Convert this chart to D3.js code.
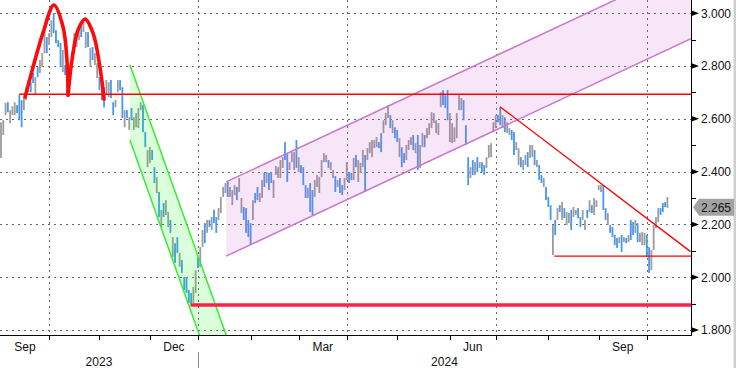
<!DOCTYPE html>
<html>
<head>
<meta charset="utf-8">
<script src="https://cdn.jsdelivr.net/npm/d3@7"></script>
<style>
body{margin:0;background:#fff;}
svg{display:block;font-family:"Liberation Sans",Arial,sans-serif;}
</style>
</head>
<body>
<div id="content" style="width:736px;height:368px;"></div>
<script>
// daily high / low, one entry per trading day from 1 Sep 2023
var hi = [
  2.587,2.595,2.660,2.663,2.633,2.648,2.663,2.652,2.690,2.671,
  2.682,2.720,2.747,2.739,2.774,2.758,2.796,2.823,2.849,2.944,
  2.910,2.925,2.974,3.001,2.936,2.898,2.887,2.861,2.804,2.796,
  2.792,2.853,2.925,2.929,2.948,2.967,2.967,2.929,2.929,2.868,
  2.872,2.849,2.811,2.758,2.709,2.720,2.747,2.739,2.747,2.663,
  2.671,2.747,2.747,2.720,2.633,2.633,2.606,2.641,2.606,2.622,
  2.641,2.663,2.652,2.550,2.482,2.493,2.482,2.417,2.379,2.323,
  2.255,2.281,2.292,2.247,2.217,2.152,2.129,2.152,2.092,2.065,
  2.001,2.001,1.952,1.940,1.963,2.027,2.076,2.114,2.179,2.205,
  2.217,2.217,2.228,2.255,2.228,2.262,2.304,2.342,2.357,2.361,
  2.342,2.330,2.349,2.342,2.376,2.300,2.266,2.262,2.217,2.205,
  2.292,2.319,2.342,2.319,2.368,2.395,2.398,2.395,2.398,2.368,
  2.421,2.417,2.444,2.455,2.512,2.470,2.436,2.474,2.474,2.520,
  2.455,2.425,2.417,2.349,2.338,2.357,2.330,2.368,2.387,2.380,
  2.444,2.470,2.463,2.444,2.436,2.406,2.383,2.368,2.376,2.349,
  2.376,2.436,2.398,2.395,2.452,2.463,2.444,2.433,2.482,2.463,
  2.489,2.512,2.520,2.520,2.531,2.512,2.546,2.595,2.622,2.652,
  2.614,2.595,2.568,2.558,2.527,2.493,2.470,2.501,2.520,2.531,
  2.539,2.508,2.539,2.501,2.546,2.539,2.565,2.584,2.625,2.622,
  2.595,2.584,2.701,2.709,2.690,2.709,2.622,2.584,2.568,2.622,
  2.690,2.679,2.671,2.576,2.455,2.417,2.444,2.436,2.455,2.436,
  2.436,2.425,2.455,2.501,2.508,2.587,2.614,2.614,2.644,2.614,
  2.606,2.587,2.565,2.558,2.550,2.512,2.489,2.455,2.444,2.463,
  2.474,2.501,2.501,2.482,2.444,2.425,2.387,2.376,2.342,2.304,
  2.273,2.198,2.217,2.262,2.273,2.285,2.262,2.247,2.243,2.255,
  2.266,2.255,2.262,2.228,2.255,2.217,2.255,2.292,2.273,2.300,
  2.292,2.349,2.349,2.349,2.262,2.243,2.198,2.190,2.160,2.149,
  2.152,2.160,2.152,2.149,2.160,2.217,2.209,2.217,2.205,2.168,
  2.171,2.168,2.160,2.114,2.103,2.198,2.228,2.262,2.262,2.281,
  2.285,2.304
];
var lo = [
  2.452,2.539,2.614,2.625,2.584,2.614,2.614,2.622,2.595,2.568,
  2.633,2.671,2.701,2.701,2.736,2.690,2.758,2.774,2.796,2.849,
  2.849,2.880,2.910,2.925,2.887,2.872,2.796,2.777,2.766,2.698,
  2.747,2.792,2.849,2.872,2.898,2.910,2.929,2.868,2.872,2.796,
  2.823,2.804,2.755,2.709,2.671,2.644,2.690,2.682,2.679,2.614,
  2.644,2.701,2.709,2.603,2.568,2.603,2.558,2.595,2.558,2.568,
  2.565,2.633,2.550,2.493,2.417,2.433,2.444,2.357,2.319,2.228,
  2.190,2.228,2.236,2.190,2.168,2.076,2.054,2.092,2.039,2.016,
  1.952,1.940,1.902,1.895,1.902,1.940,2.035,2.039,2.114,2.129,
  2.168,2.190,2.179,2.205,2.168,2.217,2.243,2.304,2.319,2.304,
  2.304,2.273,2.311,2.292,2.323,2.243,2.217,2.168,2.152,2.122,
  2.217,2.281,2.292,2.285,2.300,2.342,2.357,2.330,2.357,2.300,
  2.387,2.376,2.376,2.414,2.444,2.361,2.406,2.436,2.406,2.414,
  2.398,2.395,2.349,2.300,2.300,2.247,2.236,2.304,2.342,2.319,
  2.380,2.436,2.436,2.414,2.406,2.376,2.323,2.342,2.319,2.311,
  2.330,2.368,2.357,2.368,2.368,2.417,2.361,2.395,2.417,2.323,
  2.444,2.470,2.455,2.489,2.493,2.489,2.474,2.546,2.576,2.603,
  2.565,2.546,2.527,2.512,2.455,2.417,2.433,2.444,2.482,2.501,
  2.482,2.470,2.406,2.414,2.493,2.493,2.527,2.539,2.565,2.584,
  2.546,2.539,2.644,2.652,2.641,2.595,2.512,2.508,2.512,2.527,
  2.633,2.633,2.595,2.501,2.349,2.376,2.387,2.387,2.398,2.414,
  2.398,2.387,2.414,2.452,2.455,2.550,2.565,2.587,2.576,2.565,
  2.550,2.546,2.539,2.520,2.463,2.482,2.425,2.417,2.406,2.425,
  2.417,2.452,2.455,2.425,2.417,2.368,2.357,2.342,2.292,2.266,
  2.217,2.084,2.160,2.217,2.247,2.217,2.224,2.198,2.205,2.179,
  2.228,2.236,2.224,2.190,2.217,2.179,2.224,2.247,2.243,2.236,
  2.266,2.330,2.323,2.255,2.217,2.198,2.168,2.152,2.122,2.111,
  2.129,2.095,2.133,2.129,2.133,2.141,2.160,2.168,2.133,2.133,
  2.122,2.122,2.076,2.016,2.027,2.103,2.186,2.209,2.236,2.247,
  2.266,2.262
];
// b = blue bar, g = grey bar
var dir = "gggbgggbbb" + "gggbbgbggg" + "bggbbbbgbg" + "gggggbggbg" + "bggbbbggbb" +
          "ggbbgbgbgg" + "ggbbggbbgb" + "gbggbgbbgb" + "bbbbggbggb" + "gbgbbggggb" +
          "gggbggbbbb" + "gbbggbgbbg" + "ggggbbgggb" + "gbbbgbbggg" + "gggbggbgbb" +
          "ggbbgbgggb" + "gggggbbggg" + "bgbbgbbggg" + "bgbggbgggg" + "gggbbbgggg" +
          "ggbbbgbgbg" + "bbgggggbbg" + "bggbbggbgg" + "bggbgbbgbb" + "bgbgbgbggb" +
          "ggbbggbgbg" + "gggbbgbbbb" + "gbgbgbbgbg" + "ggbbggggbb" + "bg";
var lastPrice = 2.265;

var yTicks = [1.8, 2.0, 2.2, 2.4, 2.6, 2.8, 3.0];
var yMinor = [1.9, 2.1, 2.3, 2.5, 2.7, 2.9];
var labelMonths = [8, 11, 2, 5];   // Sep, Dec, Mar, Jun
var gridMonths = [0, 3, 6, 9];     // Jan, Apr, Jul, Oct

// drawn studies, in (trading day index, price)
var neckline = {from: 7.9, price: 2.693};
var top1 = [[10.5,2.683],[14,2.796],[18.3,2.925],[23.1,3.031],[27.1,2.948],[28.8,2.823],[29.3,2.690]];
var top2 = [[29.3,2.690],[31,2.823],[33.6,2.936],[36.7,2.978],[40.2,2.925],[43.2,2.796],[45,2.675]];
var downChannel = {from: 56.3, to: 100, upper: [2.804, 1.740], lower: [2.520, 1.455]};
var upChannel = {from: 98.3, to: 301.3, upper: [2.361, 3.185], lower: [2.080, 2.904]};
var support = {from: 82.8, price: 1.895};
var trendDown = [[217.9, 2.646], [301.1, 2.097]];
var base = {from: 241.6, price: 2.080};

var W = 736, H = 368, right = 691, bottom = 335, endIdx = 301.3;

// trading days (weekdays) from 1 Sep 2023
var days = [];
for (var d = new Date(2023, 8, 1); days.length < 302; d.setDate(d.getDate() + 1)) {
  if (d.getDay() % 6 !== 0) days.push(new Date(d));
}
var monthStarts = [];
days.forEach(function(dt, i){
  if (i === 0 || dt.getMonth() !== days[i-1].getMonth()) monthStarts.push({i: i, date: dt});
});

var x = d3.scaleLinear().domain([0, endIdx]).range([1, right]);
var y = d3.scaleLinear().domain([1.8, 3.0]).range([330, 13.3]);

var svg = d3.select('#content').append('svg')
  .attr('width', W)
  .attr('height', H);
svg.append('rect').attr('width', W).attr('height', H).attr('fill', '#fff');
svg.append('rect').attr('x', 733.5).attr('width', 2.5).attr('height', H).attr('fill', '#cfcfcf');

svg.append('defs').append('clipPath').attr('id', 'clip')
  .append('rect').attr('width', right).attr('height', bottom);

// grid
var grid = svg.append('g').attr('stroke', '#666').attr('stroke-dasharray', '2,4');
grid.selectAll('.hg').data(yTicks).enter().append('line')
  .attr('x1', 0).attr('x2', right)
  .attr('y1', function(v){ return Math.round(y(v)) + 0.5; })
  .attr('y2', function(v){ return Math.round(y(v)) + 0.5; });
grid.selectAll('.vg').data(monthStarts.filter(function(m){ return m.i > 0 && gridMonths.indexOf(m.date.getMonth()) >= 0; }))
  .enter().append('line')
  .attr('x1', function(m){ return Math.round(x(m.i)) + 0.5; })
  .attr('x2', function(m){ return Math.round(x(m.i)) + 0.5; })
  .attr('y1', 0).attr('y2', bottom);

var plot = svg.append('g').attr('clip-path', 'url(#clip)');

// price bars
plot.append('g').selectAll('rect')
  .data(hi)
  .enter()
  .append('rect')
  .attr('x', function(v, i){ return x(i) - 0.9; })
  .attr('width', 1.8)
  .attr('y', function(v){ return y(v); })
  .attr('height', function(v, i){ return Math.max(1, y(lo[i]) - y(v)); })
  .attr('fill', function(v, i){ return dir[i] === 'b' ? '#4598f2' : '#9c9c9c'; });

function channelArea(c){
  return [[c.from, c.upper[0]], [c.to, c.upper[1]], [c.to, c.lower[1]], [c.from, c.lower[0]]];
}
var line = d3.line()
  .x(function(p){ return x(p[0]); })
  .y(function(p){ return y(p[1]); });

// channels
plot.append('path').attr('d', line(channelArea(downChannel)) + 'Z')
  .attr('fill', 'rgb(0,255,0)').attr('fill-opacity', 0.14);
plot.append('path').attr('d', line(channelArea(upChannel)) + 'Z')
  .attr('fill', 'rgb(200,90,200)').attr('fill-opacity', 0.15);
[['upper', '#33ee33', downChannel], ['lower', '#33ee33', downChannel],
 ['upper', '#cc77cc', upChannel], ['lower', '#cc77cc', upChannel]].forEach(function(s){
  var c = s[2];
  plot.append('path')
    .attr('d', line([[c.from, c[s[0]][0]], [c.to, c[s[0]][1]]]))
    .attr('stroke', s[1]).attr('stroke-width', 1.5).attr('fill', 'none');
});

// horizontal levels and trend line
plot.append('path').attr('d', line([[neckline.from, neckline.price], [endIdx, neckline.price]]))
  .attr('stroke', '#ff0000').attr('stroke-width', 1.5).attr('fill', 'none');
plot.append('path').attr('d', line([[support.from, support.price], [endIdx, support.price]]))
  .attr('stroke', '#ff1f4b').attr('stroke-width', 3.5).attr('fill', 'none');
plot.append('path').attr('d', line([[base.from, base.price], [endIdx, base.price]]))
  .attr('stroke', '#ff0000').attr('stroke-width', 1.3).attr('fill', 'none');
plot.append('path').attr('d', line(trendDown))
  .attr('stroke', '#ff0000').attr('stroke-width', 1.3).attr('fill', 'none');

// double top arcs
var arc = d3.line()
  .x(function(p){ return x(p[0]); })
  .y(function(p){ return y(p[1]); })
  .curve(d3.curveCatmullRom.alpha(0.5));
[top1, top2].forEach(function(t){
  plot.append('path').attr('d', arc(t))
    .attr('stroke', '#ff0a0a').attr('stroke-width', 3.6).attr('fill', 'none')
    .attr('stroke-linecap', 'round');
});

// axes lines
svg.append('line').attr('x1', right + 0.5).attr('x2', right + 0.5).attr('y1', 0).attr('y2', bottom + 1)
  .attr('stroke', '#000');
svg.append('line').attr('x1', 0).attr('x2', right + 1).attr('y1', bottom + 0.5).attr('y2', bottom + 0.5)
  .attr('stroke', '#000');

// right axis
var yAxis = svg.append('g').attr('fill', '#111').attr('font-size', '12px');
yAxis.selectAll('path').data(yTicks).enter().append('path')
  .attr('d', function(v){ var t = y(v); return 'M' + right + ',' + (t - 3) + 'L' + (right + 8) + ',' + t + 'L' + right + ',' + (t + 3) + 'Z'; })
  .attr('fill', '#000');
yAxis.selectAll('line').data(yMinor).enter().append('line')
  .attr('x1', right).attr('x2', right + 5)
  .attr('y1', function(v){ return Math.round(y(v)) + 0.5; })
  .attr('y2', function(v){ return Math.round(y(v)) + 0.5; })
  .attr('stroke', '#000');
yAxis.selectAll('text').data(yTicks).enter().append('text')
  .attr('x', 701)
  .attr('y', function(v){ return y(v); })
  .attr('dy', '0.36em')
  .text(d3.format('.3f'));

// last price tag
var ly = y(lastPrice);
svg.append('path')
  .attr('d', 'M693,' + ly + 'L699,' + (ly - 8.5) + 'L734,' + (ly - 8.5) + 'L734,' + (ly + 8.5) + 'L699,' + (ly + 8.5) + 'Z')
  .attr('fill', '#a3a3a3');
svg.append('text').attr('x', 701).attr('y', ly).attr('dy', '0.36em')
  .attr('font-size', '12px').attr('fill', '#111')
  .text(d3.format('.3f')(lastPrice));

// bottom axis
var xAxis = svg.append('g').attr('font-size', '12px').attr('fill', '#111');
xAxis.selectAll('line').data(monthStarts.filter(function(m){ return m.i > 0; })).enter().append('line')
  .attr('x1', function(m){ return Math.round(x(m.i)) + 0.5; })
  .attr('x2', function(m){ return Math.round(x(m.i)) + 0.5; })
  .attr('y1', bottom).attr('y2', bottom + 5)
  .attr('stroke', '#000');
monthStarts.forEach(function(m, k){
  if (labelMonths.indexOf(m.date.getMonth()) < 0) return;
  var next = k + 1 < monthStarts.length ? monthStarts[k+1].i : days.length;
  xAxis.append('text')
    .attr('x', x((m.i + next) / 2))
    .attr('y', 351)
    .attr('text-anchor', 'middle')
    .text(d3.timeFormat('%b')(m.date));
});
var yearStart = monthStarts.filter(function(m){ return m.date.getMonth() === 0; })[0].i;
xAxis.append('line')
  .attr('x1', Math.round(x(yearStart)) + 0.5).attr('x2', Math.round(x(yearStart)) + 0.5)
  .attr('y1', 352).attr('y2', H)
  .attr('stroke', '#888');
xAxis.append('text').attr('x', x(yearStart) / 2).attr('y', 366).attr('text-anchor', 'middle')
  .text(days[0].getFullYear());
xAxis.append('text').attr('x', (x(yearStart) + right) / 2).attr('y', 366).attr('text-anchor', 'middle')
  .text(days[yearStart].getFullYear());
</script>
</body>
</html>
